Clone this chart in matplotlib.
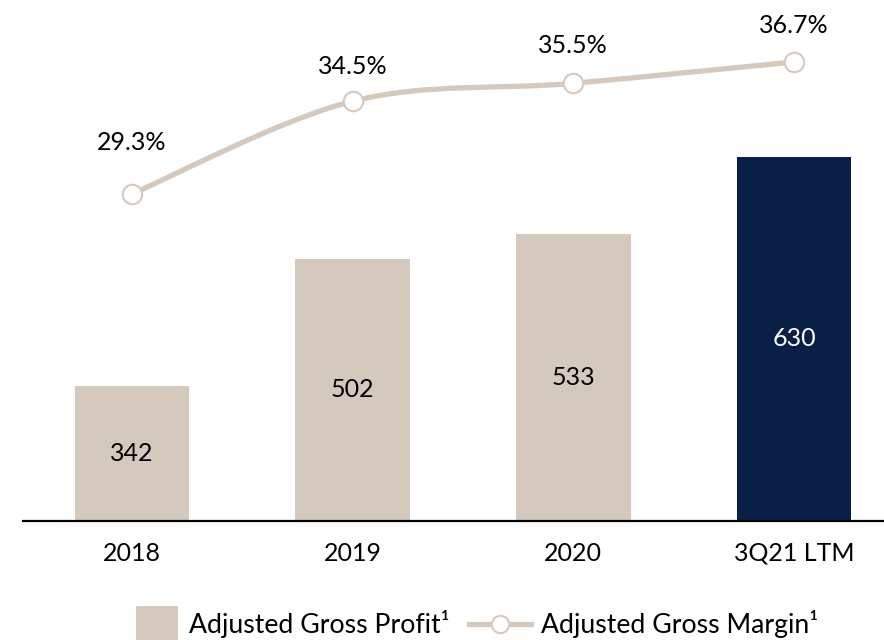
import matplotlib
matplotlib.use('Agg')
import matplotlib.pyplot as plt
from matplotlib.path import Path
from matplotlib.patches import PathPatch, Patch, Rectangle
from matplotlib.lines import Line2D
from matplotlib.legend_handler import HandlerPatch

plt.rcParams['font.family'] = ['Lato', 'DejaVu Sans']

# Data
periods = ['2018', '2019', '2020', '3Q21 LTM']
gross_profit = [342, 502, 533, 630]
gross_margin = [29.3, 34.5, 35.5, 36.7]

beige = '#D5C9BD'
navy = '#0A1F45'
bar_colors = [beige, beige, beige, navy]

fig = plt.figure(figsize=(8.84, 6.4), dpi=100)
ax = fig.add_axes([23 / 884, 1 - 521 / 640, 1 - 23 / 884, 521 / 640])
x = list(range(len(periods)))

ax.bar(x, gross_profit, width=0.52, color=bar_colors, bottom=0)
ax.set_ylim(172, 827)
ax.set_xlim(-0.494, 3.408)
for xi, v, c in zip(x, gross_profit, bar_colors):
    ax.text(xi, (v + 172) / 2, str(v), ha='center', va='center', fontsize=18,
            color='white' if c == navy else 'black')

for s in ['top', 'right', 'left']:
    ax.spines[s].set_visible(False)
ax.spines['bottom'].set_linewidth(1.6)
ax.set_yticks([])
ax.set_xticks(x)
ax.set_xticklabels(periods, fontsize=18)
ax.tick_params(axis='x', length=0, pad=15)

# Margin line (smoothed, bezier through data points)
ax2 = ax.twinx()
ax2.set_ylim(10.97, 40.17)
ax2.set_axis_off()
pts = list(zip(x, gross_margin))
verts = [pts[0]]
codes = [Path.MOVETO]
n = len(pts)
for i in range(n - 1):
    p0 = pts[max(i - 1, 0)]
    p1 = pts[i]
    p2 = pts[i + 1]
    p3 = pts[min(i + 2, n - 1)]
    c1 = (p1[0] + (p2[0] - p0[0]) / 6, p1[1] + (p2[1] - p0[1]) / 6)
    c2 = (p2[0] - (p3[0] - p1[0]) / 6, p2[1] - (p3[1] - p1[1]) / 6)
    verts += [c1, c2, p2]
    codes += [Path.CURVE4] * 3
ax2.add_patch(PathPatch(Path(verts, codes), facecolor='none', edgecolor=beige,
                        lw=3.8, capstyle='round'))
ax2.plot(x, gross_margin, linestyle='none', marker='o', markersize=14,
         markerfacecolor='white', markeredgecolor=beige, markeredgewidth=1.5)
label_offsets = [37, 25, 27, 26]
for xi, v, off in zip(x, gross_margin, label_offsets):
    ax2.annotate(f'{v}%', (xi, v), xytext=(0, off), textcoords='offset points',
                 ha='center', va='center', fontsize=18)


# legend: square swatch narrower than the line handle
def swatch(legend, orig_handle, xdescent, ydescent, width, height, fontsize):
    w, h = 30.2, 26
    return Rectangle((-xdescent + width - w, -ydescent + height / 2 - h / 2), w, h)


handles = [Patch(facecolor=beige, edgecolor='none'),
           Line2D([], [], color=beige, lw=3.8, marker='o', markersize=12.5,
                  markerfacecolor='white', markeredgecolor=beige, markeredgewidth=1.5)]
fig.legend(handles, ['Adjusted Gross Profit\u00b9', 'Adjusted Gross Margin\u00b9'],
           loc='center left', bbox_to_anchor=(117 / 884, 1 - 624 / 640), ncol=2,
           frameon=False, fontsize=19.2, handlelength=2.3,
           columnspacing=0.74, handletextpad=0.4, borderpad=0, borderaxespad=0,
           handler_map={Patch: HandlerPatch(patch_func=swatch)})

fig.savefig('out.png', dpi=100)
